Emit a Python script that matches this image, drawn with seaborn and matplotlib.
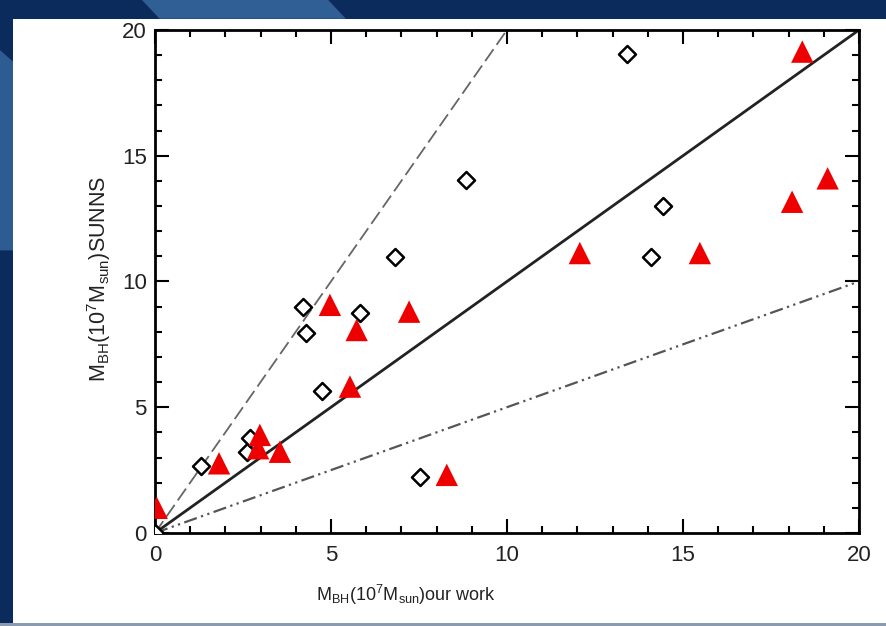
import numpy as np
import pandas as pd
import matplotlib
matplotlib.use('Agg')
import matplotlib.pyplot as plt
import seaborn as sns
from matplotlib.patches import Rectangle, Polygon
from matplotlib.ticker import MultipleLocator

# Data
diamond_x = [0.0, 1.30, 2.61, 2.70, 4.21, 4.30, 4.74, 5.83, 6.83, 7.52, 8.84, 13.42, 14.08, 14.44]
diamond_y = [0.0, 2.66, 3.23, 3.78, 9.00, 7.96, 5.66, 8.75, 10.99, 2.24, 14.04, 19.05, 10.99, 13.01]

triangle_x = [0.05, 1.82, 2.93, 2.98, 3.55, 4.97, 5.54, 5.73, 7.22, 8.29, 12.07, 15.48, 18.10, 18.39, 19.11]
triangle_y = [1.00, 2.77, 3.37, 3.90, 3.23, 9.07, 5.82, 8.07, 8.80, 2.31, 11.13, 11.13, 13.17, 19.14, 14.10]

ref_x = [0, 20]
ref_slopes = [1.0, 2.0, 0.5]

x_ticks = [0, 5, 10, 15, 20]
y_ticks = [0, 5, 10, 15, 20]

sns.set_style('ticks')
plt.rcParams['font.family'] = ['Liberation Sans', 'DejaVu Sans']
plt.rcParams['mathtext.fontset'] = 'custom'
plt.rcParams['mathtext.rm'] = 'Liberation Sans'

fig = plt.figure(figsize=(8.87, 6.26), dpi=100)
fig.patch.set_facecolor('#0a2b5c')

# slide background: lighter streaks and white panel
fig.add_artist(Polygon([[0, 0.60], [0.016, 0.60], [0.016, 0.90], [0, 0.92]],
                       closed=True, transform=fig.transFigure, facecolor='#2d5c93', edgecolor='none', zorder=0))
fig.add_artist(Polygon([[0.16, 1.0], [0.37, 1.0], [0.39, 0.97], [0.18, 0.97]],
                       closed=True, transform=fig.transFigure, facecolor='#2f5f94', edgecolor='none', zorder=0))
fig.add_artist(Rectangle((0.0, 0.0), 1.0, 0.005, transform=fig.transFigure,
                         facecolor='#8a9bb0', edgecolor='none', zorder=0))
fig.add_artist(Rectangle((0.015, 0.005), 0.985, 0.965, transform=fig.transFigure,
                         facecolor='white', edgecolor='none', zorder=0))

ax = fig.add_axes([0.1747, 0.1486, 0.7937, 0.8035])
ax.set_facecolor('white')

# reference lines y = x, y = 2x, y = 0.5x
line_styles = {1.0: dict(color='#222222', lw=2.0, ls='-'),
               2.0: dict(color='#666666', lw=1.3, ls=(0, (8, 3))),
               0.5: dict(color='#555555', lw=1.6, ls=(0, (6, 2, 1, 2, 1, 2)))}
for s in ref_slopes:
    df_line = pd.DataFrame({'x': ref_x, 'y': [s * v for v in ref_x]})
    sns.lineplot(data=df_line, x='x', y='y', ax=ax, **line_styles[s])

df_d = pd.DataFrame({'x': diamond_x, 'y': diamond_y})
df_t = pd.DataFrame({'x': triangle_x, 'y': triangle_y})

sns.scatterplot(data=df_d, x='x', y='y', ax=ax, marker='D', s=75,
                facecolor='white', edgecolor='black', linewidth=1.8, zorder=4, clip_on=True)
sns.scatterplot(data=df_t, x='x', y='y', ax=ax, marker='^', s=260,
                color='#ee0000', edgecolor='none', linewidth=0, zorder=5, clip_on=True)

ax.set_xlim(0, 20)
ax.set_ylim(0, 20)
ax.set_xticks(x_ticks)
ax.set_yticks(y_ticks)
ax.xaxis.set_minor_locator(MultipleLocator(1))
ax.yaxis.set_minor_locator(MultipleLocator(1))
ax.tick_params(which='both', direction='in', top=True, right=True, color='black', width=1.5)
ax.tick_params(which='major', length=10, labelsize=16, labelcolor='#222222')
ax.tick_params(which='minor', length=5)
ax.tick_params(axis='x', which='major', pad=9)
ax.tick_params(axis='y', which='major', pad=6)
for sp in ax.spines.values():
    sp.set_color('black')
    sp.set_linewidth(2)

ax.set_xlabel(r'M$_{\rm BH}$(10$^7$M$_{\rm sun}$)our work', fontsize=13, color='#222222')
ax.set_ylabel(r'M$_{\rm BH}$(10$^7$M$_{\rm sun}$)SUNNS', fontsize=15.5, color='#222222')
ax.xaxis.set_label_coords(0.357, -0.1)
ax.yaxis.set_label_coords(-0.06, 0.505)

fig.savefig('out.png', dpi=100, facecolor=fig.get_facecolor())
